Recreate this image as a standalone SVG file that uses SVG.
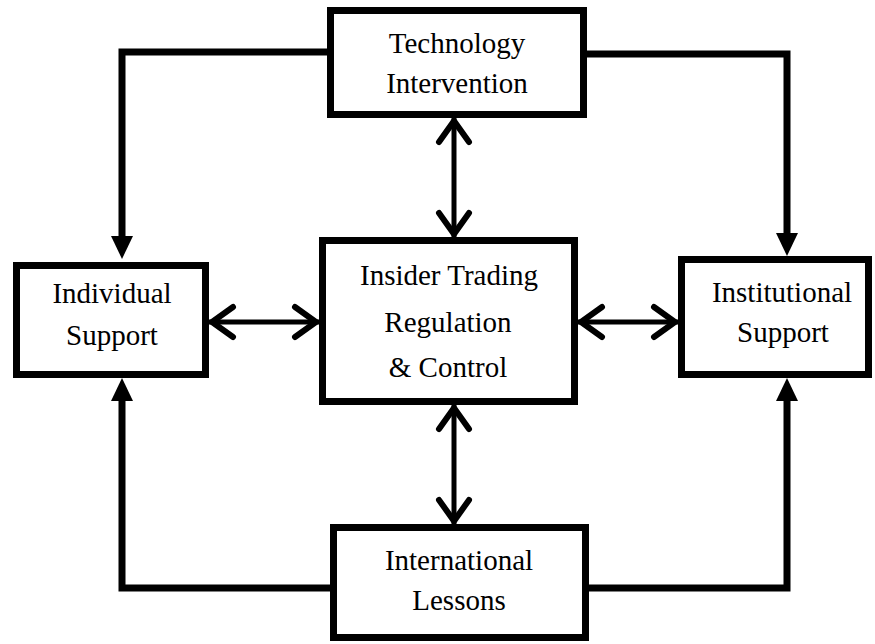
<svg xmlns="http://www.w3.org/2000/svg" width="875" height="644" viewBox="0 0 875 644">
<style>
.box{fill:#fff;stroke:#000;stroke-width:7}
.lbl{font-family:"Liberation Serif","Times New Roman",serif;font-size:29px;fill:#000;text-anchor:middle}
.conn{fill:none;stroke:#000;stroke-width:7}
.dbl{fill:none;stroke:#000;stroke-width:5}
</style>
<defs>
<marker id="tri" viewBox="0 -11 23 22" refX="0" refY="0" markerWidth="23" markerHeight="22" markerUnits="userSpaceOnUse" orient="auto">
<path d="M0 -11 L23 0 L0 11 Z" fill="#000"/>
</marker>
<marker id="chev" viewBox="-32 -20 36 40" refX="0" refY="0" markerWidth="36" markerHeight="40" markerUnits="userSpaceOnUse" orient="auto-start-reverse">
<path d="M-24 -15 L-3 0 L-24 15" fill="none" stroke="#000" stroke-width="6" stroke-linecap="round"/>
</marker>
</defs>
<g id="connectors">
<path class="conn" d="M331 52 H122 V236" marker-end="url(#tri)"/>
<path class="conn" d="M583 54 H787 V233" marker-end="url(#tri)"/>
<path class="conn" d="M587 588 H787 V401" marker-end="url(#tri)"/>
<path class="conn" d="M333 588 H122 V401" marker-end="url(#tri)"/>
<path class="dbl" d="M454 118 V237" marker-start="url(#chev)" marker-end="url(#chev)"/>
<path class="dbl" d="M454 405 V524" marker-start="url(#chev)" marker-end="url(#chev)"/>
<path class="dbl" d="M209 322 H319" marker-start="url(#chev)" marker-end="url(#chev)"/>
<path class="dbl" d="M578 322 H678" marker-start="url(#chev)" marker-end="url(#chev)"/>
</g>
<g id="technology">
<rect class="box" x="330.5" y="10.5" width="253" height="104"/>
<text class="lbl" x="457" y="53">Technology</text>
<text class="lbl" x="457" y="93">Intervention</text>
</g>
<g id="center">
<rect class="box" x="322.5" y="240.5" width="252" height="161"/>
<text class="lbl" x="449" y="285">Insider Trading</text>
<text class="lbl" x="448" y="332">Regulation</text>
<text class="lbl" x="448" y="377">&amp; Control</text>
</g>
<g id="individual">
<rect class="box" x="16.5" y="265.5" width="189" height="109"/>
<text class="lbl" x="112" y="303">Individual</text>
<text class="lbl" x="112" y="345">Support</text>
</g>
<g id="institutional">
<rect class="box" x="681.5" y="259.5" width="187" height="115"/>
<text class="lbl" x="782" y="302">Institutional</text>
<text class="lbl" x="783" y="342">Support</text>
</g>
<g id="international">
<rect class="box" x="333.5" y="527.5" width="252" height="110"/>
<text class="lbl" x="459" y="570">International</text>
<text class="lbl" x="459" y="610">Lessons</text>
</g>
</svg>
